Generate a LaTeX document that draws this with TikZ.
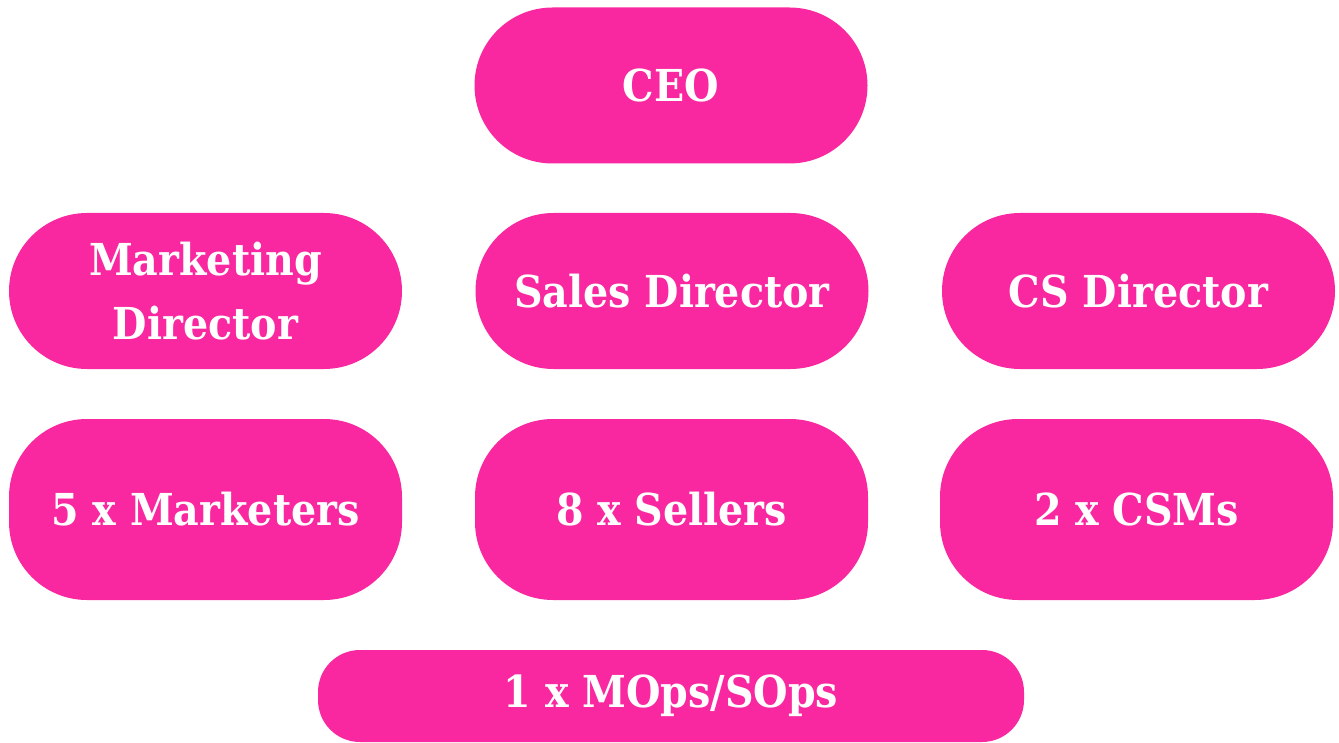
\documentclass[tikz,border=0pt]{standalone}
\usepackage{fontspec}
\setmainfont[FakeStretch=0.9]{DejaVu Serif}
\definecolor{rolepink}{HTML}{F928A0}

\tikzset{
  role/.style={fill=rolepink, text=white, rounded corners=78pt, inner sep=0pt,
    minimum width=393pt, minimum height=156pt, align=center,
    font=\fontsize{44}{64}\selectfont\bfseries},
  team/.style={role, minimum height=181pt},
}

\begin{document}
\begin{tikzpicture}[x=1pt, y=-1pt]
  \useasboundingbox (0,0) rectangle (1339,743);

  \node[role] (ceo) at (671,85.5) {CEO};

  \node[role] (mktdir) at (205.5,291) {Marketing\\Director};
  \node[role] (salesdir) at (672,291) {Sales Director};
  \node[role] (csdir) at (1138.5,291) {CS Director};

  \node[team] (mkt) at (205.5,509.5) {5 x Marketers};
  \node[team] (sales) at (671.5,509.5) {8 x Sellers};
  \node[team] (csm) at (1136.5,509.5) {2 x CSMs};

  \node[role, minimum width=706pt, minimum height=92pt, rounded corners=42pt]
    (ops) at (671,696) {1 x MOps/SOps};
\end{tikzpicture}
\end{document}
